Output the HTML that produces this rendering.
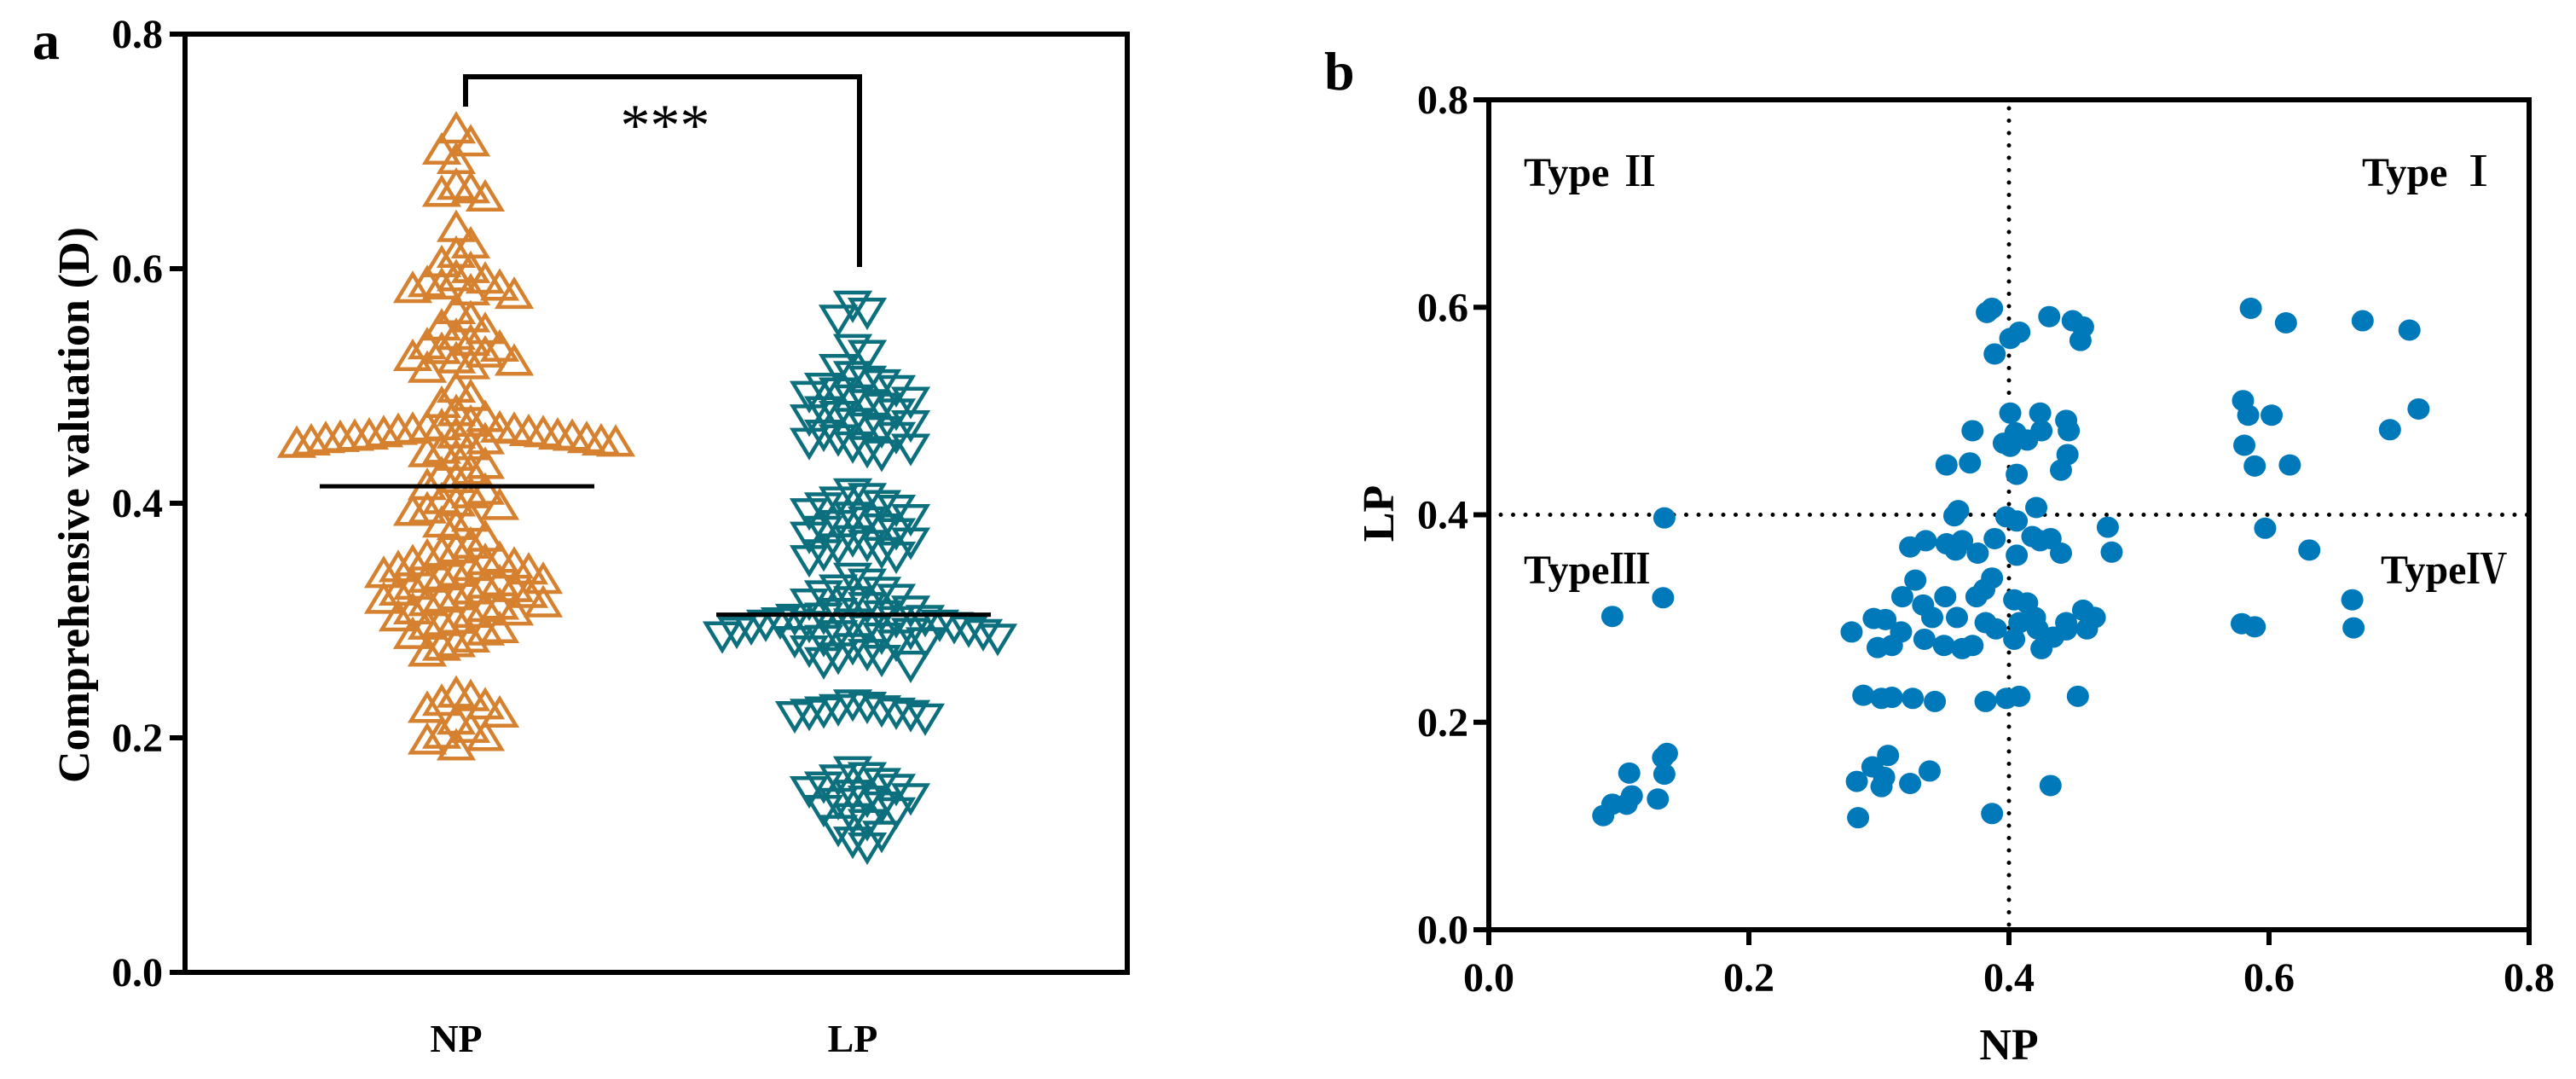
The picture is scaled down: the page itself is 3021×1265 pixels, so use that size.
<!DOCTYPE html>
<html><head><meta charset="utf-8"><style>
html,body{margin:0;padding:0;background:#fff;}
svg{display:block;font-family:"Liberation Serif","Noto Serif CJK SC",serif;font-weight:bold;}
</style></head><body>
<svg id="fig" width="3021" height="1265" viewBox="0 0 3021 1265" xmlns="http://www.w3.org/2000/svg">
<rect x="0" y="0" width="3021" height="1265" fill="#fff"/>
<g id="panelA"></g>
<g id="panelB"></g>
</svg>
<script>
// ---------- Panel a data ----------
const catsA = ["NP", "LP"];
const ticksA = [0.0, 0.2, 0.4, 0.6, 0.8];
const tickLabelsA = ["0.0", "0.2", "0.4", "0.6", "0.8"];
const valsNP = [0.716,0.705,0.698,0.69,0.668,0.662,0.658,0.665,
0.632,0.618,0.61,0.602,0.597,0.59,0.588,0.585,0.582,0.58,0.578,0.575,0.583,
0.562,0.555,0.548,0.545,0.54,0.535,0.532,0.53,0.528,0.525,0.522,0.52,0.518,0.515,0.512,
0.495,0.488,0.482,0.475,0.47,0.466,0.463,0.462,0.461,0.46,0.46,0.459,0.458,0.457,0.457,0.456,0.455,0.455,0.454,0.454,0.453,0.452,0.452,0.451,0.45,0.45,0.449,0.448,0.446,0.443,0.44,0.437,
0.43,0.425,0.422,0.418,0.412,0.408,0.405,0.4,0.398,0.395,0.392,0.39,0.385,0.38,0.378,
0.368,0.362,0.358,0.355,0.352,0.35,0.348,0.347,0.345,0.343,0.342,0.34,0.338,0.337,0.335,0.333,0.332,0.33,0.328,0.327,0.325,0.323,0.322,0.32,0.318,0.316,0.315,0.313,0.312,0.31,0.308,0.306,0.305,0.303,0.3,0.298,0.296,0.293,0.29,0.288,0.285,0.282,0.278,0.275,0.27,
0.235,0.232,0.228,0.225,0.222,0.218,0.212,0.205,0.2,0.198,0.195,0.19];
const valsLP = [0.572,0.566,0.56,0.535,0.53,
0.518,0.512,0.508,0.505,0.502,0.5,0.498,0.495,0.492,0.49,0.488,0.485,0.482,0.48,0.478,0.475,0.472,0.47,0.468,0.465,0.462,0.46,0.458,0.455,0.452,0.45,0.448,0.445,
0.412,0.408,0.405,0.402,0.4,0.398,0.395,0.392,0.39,0.388,0.385,0.382,0.38,0.378,0.375,0.372,0.37,0.368,0.365,0.362,0.36,0.358,0.355,
0.34,0.335,0.33,0.328,0.325,0.322,0.32,0.318,0.315,0.312,0.31,0.308,0.306,0.305,0.304,0.303,0.302,0.301,0.3,0.3,0.299,0.298,0.297,0.296,0.295,0.294,0.293,0.292,0.291,0.29,0.289,0.288,0.287,0.286,0.285,0.283,0.28,0.278,0.275,0.272,0.27,0.268,0.265,
0.232,0.23,0.228,0.227,0.226,0.225,0.224,0.223,0.222,0.22,
0.175,0.17,0.168,0.165,0.162,0.16,0.158,0.155,0.152,0.15,0.148,0.145,0.142,0.14,0.135,0.13,0.125,0.12,0.115,0.11];
const mediansA = [0.4145, 0.305];

// ---------- Panel b data ----------
const ticksB = [0.0, 0.2, 0.4, 0.6, 0.8];
const tickLabelsB = ["0.0", "0.2", "0.4", "0.6", "0.8"];
const npB = [0.135,0.095,0.134,0.088,0.095,0.106,0.11,0.108,0.13,0.134,0.137,0.135,
0.279,0.283,0.284,0.288,0.295,0.296,0.299,
0.383,0.387,0.389,0.401,0.408,0.431,0.449,0.457,0.455,0.401,0.424,0.444,0.446,0.425,0.405,0.396,0.414,0.401,0.372,0.352,0.37,0.445,0.44,0.406,
0.361,0.358,0.398,0.406,0.421,0.476,0.479,0.324,0.336,0.352,0.364,0.359,0.376,0.389,0.406,0.418,0.424,0.432,0.44,
0.328,0.387,0.381,0.375,0.318,0.334,0.351,0.341,0.36,0.382,0.39,0.404,0.414,0.42,0.404,0.408,0.422,0.425,0.434,0.444,0.444,0.457,0.466,0.46,
0.305,0.31,0.317,0.335,0.35,0.364,0.372,
0.302,0.31,0.326,0.343,0.382,0.398,0.408,0.453,
0.307,0.304,0.302,0.324,0.339,0.432,0.387,
0.586,0.613,0.672,0.708,0.58,0.584,0.602,0.715,0.693,0.581,0.589,0.616,0.597,0.631,0.664,0.665,0.579,0.589];
const lpB = [0.397,0.302,0.32,0.11,0.121,0.121,0.129,0.151,0.126,0.166,0.17,0.15,
0.287,0.143,0.108,0.226,0.157,0.30,0.272,
0.595,0.599,0.555,0.57,0.576,0.591,0.587,0.581,0.568,0.498,0.498,0.491,0.481,0.481,0.479,0.469,0.472,0.466,0.481,0.448,0.45,0.458,0.443,0.439,
0.404,0.399,0.398,0.394,0.407,0.388,0.364,0.369,0.375,0.372,0.375,0.366,0.363,0.377,0.361,0.379,0.375,0.377,0.363,
0.337,0.339,0.328,0.321,0.321,0.313,0.321,0.301,0.301,0.296,0.29,0.318,0.315,0.301,0.28,0.296,0.29,0.271,0.282,0.296,0.289,0.308,0.301,0.29,
0.299,0.274,0.287,0.28,0.274,0.271,0.274,
0.223,0.224,0.223,0.22,0.22,0.223,0.225,0.225,
0.168,0.147,0.138,0.141,0.153,0.139,0.112,
0.599,0.585,0.587,0.578,0.51,0.496,0.496,0.502,0.482,0.467,0.447,0.448,0.387,0.366,0.318,0.291,0.295,0.292];

const NS = "http://www.w3.org/2000/svg";
function mk(parent, tag, attrs, text) {
  const el = document.createElementNS(NS, tag);
  for (const k in attrs) el.setAttribute(k, attrs[k]);
  if (text !== undefined) el.textContent = text;
  parent.appendChild(el);
  return el;
}

// ================= Panel a =================
const A = document.getElementById("panelA");
const aL = 217, aR = 1322, aT = 40, aB = 1140;
const yA = v => aB - v * (aB - aT) / 0.8;
const xA = i => [535, 1000][i];

let t = mk(A, "text", {x: 38, y: 69, "font-size": 64});
t.textContent = "a";



let fr = mk(A, "rect", {x: aL, y: aT, width: aR - aL, height: aB - aT, fill: "none", stroke: "#000", "stroke-width": 6});



ticksA.forEach((v, i) => {
  const tk = mk(A, "line", {x1: aL - 18, x2: aL, y1: yA(v), y2: yA(v), stroke: "#000", "stroke-width": 6});
  
  
  const lb = mk(A, "text", {x: aL - 26, y: yA(v) + 16, "font-size": 48, "text-anchor": "end"}, tickLabelsA[i]);
  
  
});
let yt = mk(A, "text", {x: 0, y: 0, "font-size": 52, "text-anchor": "middle", transform: "translate(104,592) rotate(-90)"}, "Comprehensive valuation (D)");



catsA.forEach((c, i) => {
  const lb = mk(A, "text", {x: xA(i), y: 1233, "font-size": 46, "text-anchor": "middle"}, c);
  
  
});

let br = mk(A, "path", {d: "M546 125 V90 H1008 V313", fill: "none", stroke: "#000", "stroke-width": 6});


let st = mk(A, "text", {x: 780, y: 170, "font-size": 70, "text-anchor": "middle", "font-weight": "normal"}, "***");



function swarm(vals, cx) {
  const order = vals.map((v, i) => i).sort((a, b) => vals[b] - vals[a]);
  const placed = [];
  const step = 17, H = 26;
  const out = [];
  order.forEach(i => {
    const y = yA(vals[i]);
    for (let k = 0; k < 80; k++) {
      const off = (k % 2 === 1 ? 1 : -1) * Math.ceil(k / 2) * step;
      const x = cx + off;
      let ok = true;
      for (const p of placed) {
        if (Math.abs(p.y - y) < H && Math.abs(p.x - x) < step * 0.99) { ok = false; break; }
      }
      if (ok) { placed.push({x, y}); out.push({x, y}); break; }
    }
  });
  return out;
}
const triR = 21;
function tri(g, x, y, up, color, name) {
  let pts;
  if (up) pts = [[x, y - triR], [x - triR * 0.91, y + triR * 0.5], [x + triR * 0.91, y + triR * 0.5]];
  else pts = [[x, y + triR], [x - triR * 0.91, y - triR * 0.5], [x + triR * 0.91, y - triR * 0.5]];
  const p = mk(g, "polygon", {points: pts.map(q => q.join(",")).join(" "), fill: "none", stroke: color, "stroke-width": 4.5});
  
  
}
const gNP = mk(A, "g", {});


swarm(valsNP, xA(0)).forEach(p => tri(gNP, p.x, p.y, true, "#D5812F", "np-point"));
const gLP = mk(A, "g", {});


swarm(valsLP, xA(1)).forEach(p => tri(gLP, p.x, p.y, false, "#0C6F7D", "lp-point"));

mediansA.forEach((m, i) => {
  const ln = mk(A, "line", {x1: xA(i) - 160, x2: xA(i) + 162, y1: yA(m), y2: yA(m), stroke: "#000", "stroke-width": 5});
  
  
});

// ================= Panel b =================
const B = document.getElementById("panelB");
const bL = 1746, bR = 2966, bT = 117, bB = 1090;
const xB = v => bL + v * (bR - bL) / 0.8;
const yB = v => bB - v * (bB - bT) / 0.8;

let lb2 = mk(B, "text", {x: 1553, y: 105, "font-size": 64}, "b");



let vl = mk(B, "line", {x1: xB(0.4), x2: xB(0.4), y1: bT + 10, y2: bB, stroke: "#000", "stroke-width": 5, "stroke-dasharray": "0 14.5", "stroke-linecap": "round"});


let hl = mk(B, "line", {x1: bL + 14, x2: bR, y1: yB(0.4), y2: yB(0.4), stroke: "#000", "stroke-width": 5, "stroke-dasharray": "0 14.5", "stroke-linecap": "round"});



const gB = mk(B, "g", {});


npB.forEach((v, i) => {
  const c = mk(gB, "ellipse", {cx: xB(v), cy: yB(lpB[i]), rx: 13, ry: 12.5, fill: "#0079BA"});
  
  
});

let fb = mk(B, "rect", {x: bL, y: bT, width: bR - bL, height: bB - bT, fill: "none", stroke: "#000", "stroke-width": 6});



ticksB.forEach((v, i) => {
  const ty = mk(B, "line", {x1: bL - 18, x2: bL, y1: yB(v), y2: yB(v), stroke: "#000", "stroke-width": 6});
  
  
  const ly = mk(B, "text", {x: bL - 24, y: yB(v) + 16, "font-size": 48, "text-anchor": "end"}, tickLabelsB[i]);
  
  
  const tx = mk(B, "line", {x1: xB(v), x2: xB(v), y1: bB, y2: bB + 18, stroke: "#000", "stroke-width": 6});
  
  
  const lx = mk(B, "text", {x: xB(v), y: bB + 72, "font-size": 48, "text-anchor": "middle"}, tickLabelsB[i]);
  
  
});

let xt = mk(B, "text", {x: xB(0.4), y: 1242, "font-size": 52, "text-anchor": "middle"}, "NP");


let ytb = mk(B, "text", {x: 0, y: 0, "font-size": 52, "text-anchor": "middle", transform: "translate(1634,602) rotate(-90)"}, "LP");



const typeLabels = [["Type Ⅱ", 1787, 218, "type-ii-label"], ["Type Ⅰ", 2770, 218, "type-i-label"], ["TypeⅢ", 1787, 684, "type-iii-label"], ["TypeⅣ", 2792, 684, "type-iv-label"]];
typeLabels.forEach(d => {
  const tl = mk(B, "text", {x: d[1], y: d[2], "font-size": 48}, d[0]);
  
  
});
</script>
</body></html>
